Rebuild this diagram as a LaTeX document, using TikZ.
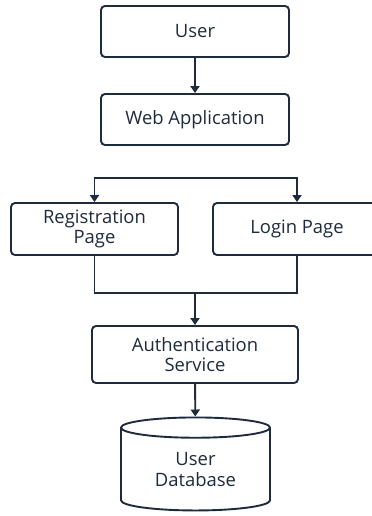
\documentclass[tikz,border=0pt]{standalone}
\usepackage{fontspec}
\setmainfont{Open Sans}
\usetikzlibrary{arrows.meta,shapes.geometric}
\definecolor{ink}{HTML}{1E2B3C}

\begin{document}
\begin{tikzpicture}[x=1bp,y=1bp,
 box/.style={draw=ink,line width=1.9bp,rounded corners=4bp,align=center,text=ink,
             font=\fontsize{18.5}{20.5}\selectfont,inner sep=0pt},
 db/.style={cylinder,shape border rotate=90,aspect=0.25,draw=ink,line width=1.9bp,
            align=center,text=ink,font=\fontsize{18.5}{20.5}\selectfont,inner sep=0pt},
 wire/.style={draw=ink,line width=1.9bp},
 flow/.style={wire,-{Triangle[length=7bp,width=9bp]}}]
\useasboundingbox (0,0) rectangle (371,-516);

\node[box,minimum width=188bp,minimum height=51bp] (user) at (195,-31.5) {User};
\node[box,minimum width=188bp,minimum height=51bp] (webapp) at (195,-119.5) {Web Application};
\draw[flow] (user) -- (webapp);

\coordinate (split) at (195,-178);
\node[box,minimum width=167bp,minimum height=52bp] (register) at (94.5,-229) {Registration\\Page};
\node[box,minimum width=168bp,minimum height=52bp] (login) at (297,-229) {Login Page};
\draw[flow] (split) -| (register);
\draw[flow] (split) -| (login);

\coordinate (merge) at (195,-293);
\node[box,minimum width=206bp,minimum height=57bp] (auth) at (195,-354.5) {Authentication\\Service};
\draw[wire] (register.south) |- (merge) -| (login.south);
\draw[flow] (merge) -- (auth);

\node[db,minimum width=149bp,minimum height=93bp] (userdb) at (195.5,-469.5) {User\\Database};
\draw[flow] (auth) -- (userdb);
\end{tikzpicture}
\end{document}
